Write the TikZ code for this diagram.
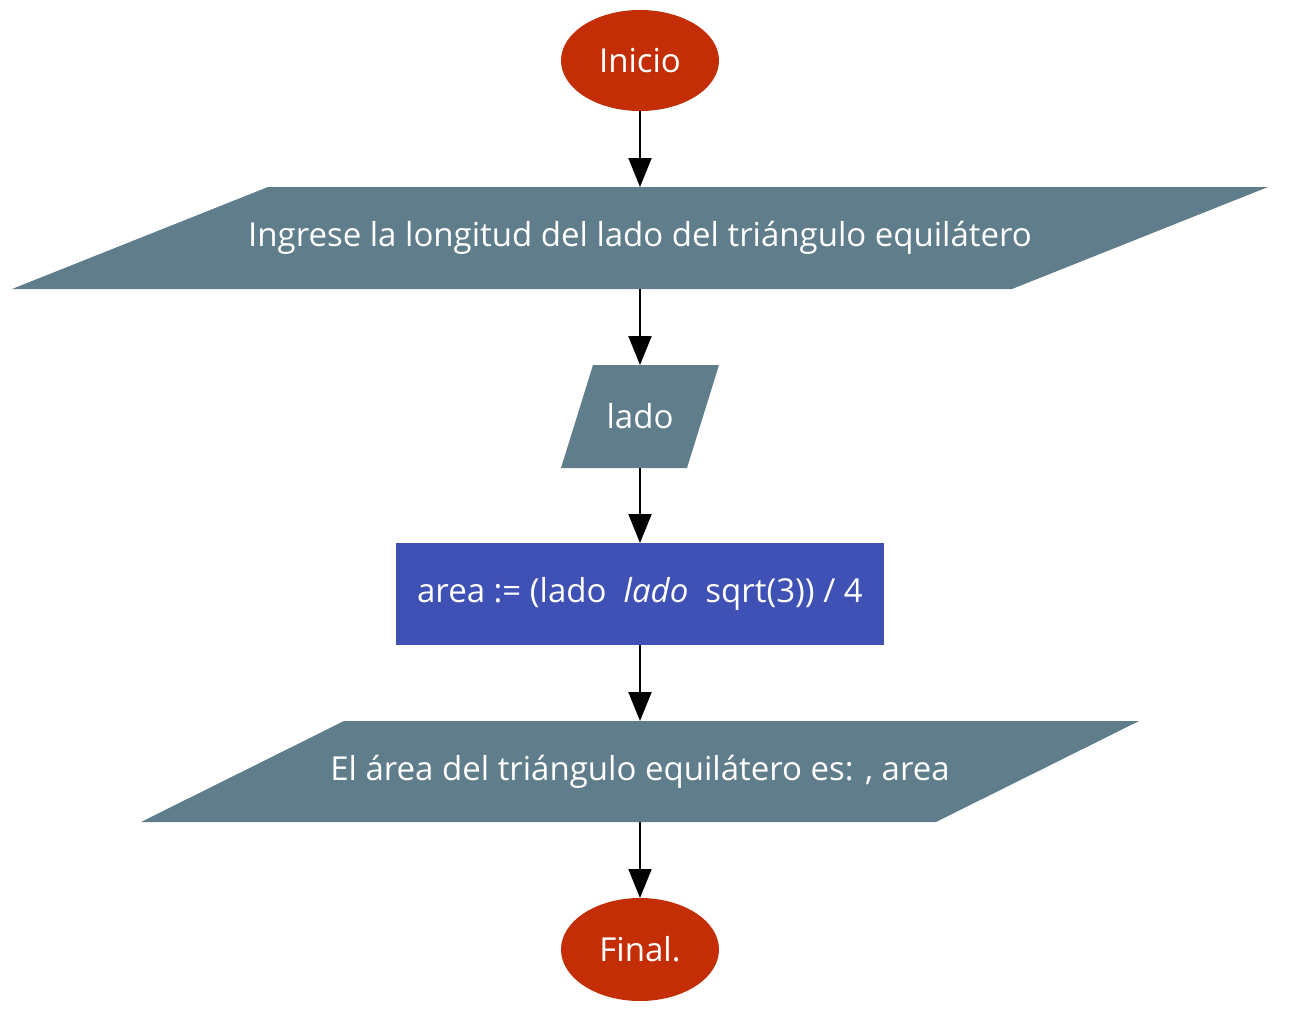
\documentclass[tikz,border=0pt]{standalone}
\usepackage{fontspec}
\setmainfont{Open Sans}
\usetikzlibrary{arrows.meta,shapes.geometric}
\definecolor{termred}{RGB}{196,46,6}
\definecolor{iogrey}{RGB}{96,125,139}
\definecolor{procblue}{RGB}{63,81,181}
\tikzset{
  base/.style={text=white,font=\fontsize{33}{40}\selectfont,inner sep=0pt,outer sep=0pt},
  term/.style={base,ellipse,fill=termred},
  proc/.style={base,rectangle,fill=procblue},
  iobox/.style={base,rectangle,draw=none,
    path picture={\fill[iogrey]
      ([xshift=#1]path picture bounding box.north west) --
      (path picture bounding box.north east) --
      ([xshift=-#1]path picture bounding box.south east) --
      (path picture bounding box.south west) -- cycle;}},
  flow/.style={line width=2pt,-{Triangle[length=29pt,width=23pt]}}
}
\begin{document}
\begin{tikzpicture}[x=1pt,y=-1pt]
\useasboundingbox (0,0) rectangle (1294,1025);
\node[term,minimum width=158pt,minimum height=101pt] (inicio) at (640,60.5) {Inicio};
\node[iobox=256pt,minimum width=1256pt,minimum height=102pt] (ingrese) at (640,238) {Ingrese la longitud del lado del triángulo equilátero};
\node[iobox=32pt,minimum width=158pt,minimum height=103pt] (lado) at (640,416.5) {lado};
\node[proc,minimum width=488pt,minimum height=102pt] (area) at (640,594) {area := (lado~ \textit{lado}~ sqrt(3)) / 4};
\node[iobox=203pt,minimum width=998pt,minimum height=101pt] (salida) at (640,771.5) {El área del triángulo equilátero es: , area};
\node[term,minimum width=158pt,minimum height=103pt] (final) at (640,949.5) {Final.};
\draw[flow] (inicio) -- (ingrese);
\draw[flow] (ingrese) -- (lado);
\draw[flow] (lado) -- (area);
\draw[flow] (area) -- (salida);
\draw[flow] (salida) -- (final);
\end{tikzpicture}
\end{document}
